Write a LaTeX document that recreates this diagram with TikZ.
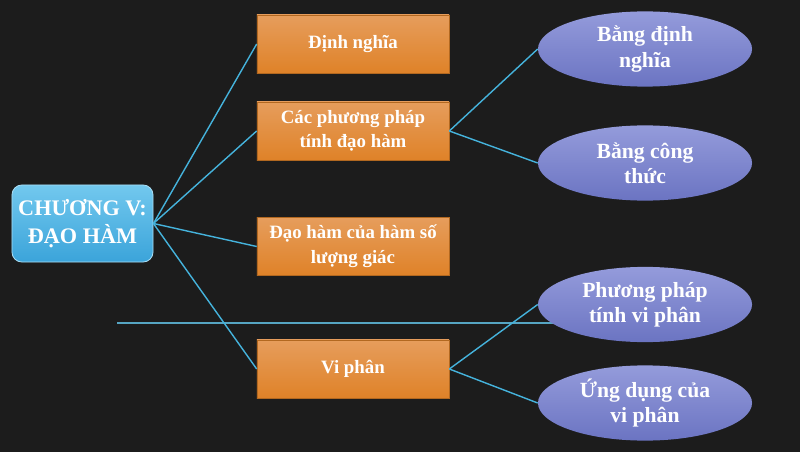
\documentclass[tikz,border=0pt]{standalone}
\usepackage{fontspec}
\setmainfont{Liberation Serif}
\usetikzlibrary{shapes.geometric}
\definecolor{bang}{HTML}{1C1C1C}
\definecolor{phan}{HTML}{45B3DC}
\definecolor{camtren}{HTML}{E69D5C}
\definecolor{camduoi}{HTML}{DF8228}
\definecolor{xanhtren}{HTML}{72C8EE}
\definecolor{xanhduoi}{HTML}{3BA4DA}
\definecolor{timtren}{HTML}{949BDB}
\definecolor{timduoi}{HTML}{6B74C2}

\begin{document}
\begin{tikzpicture}[x=0.025cm,y=-0.025cm,
  chuong/.style={rectangle, rounded corners=7pt, draw=xanhtren!60!white, line width=0.6pt,
    top color=xanhtren, bottom color=xanhduoi, text=white, align=center,
    minimum width=3.525cm, minimum height=1.925cm, inner sep=0pt,
    font=\bfseries\fontsize{15.8}{19.5}\selectfont},
  muc/.style={rectangle, draw=camduoi!80!black, line width=0.4pt,
    top color=camtren, bottom color=camduoi, text=white, align=center,
    minimum width=4.8cm, minimum height=1.45cm, inner sep=0pt,
    font=\bfseries\fontsize{13.4}{17.5}\selectfont},
  cach/.style={ellipse, top color=timtren, bottom color=timduoi, text=white, align=center,
    minimum width=5.35cm, minimum height=1.88cm, inner sep=0pt,
    font=\bfseries\fontsize{15.4}{17.8}\selectfont},
  noi/.style={draw=phan, line width=1pt}]

% nen bang den
\fill[bang] (0,0) rectangle (800,452);
\draw[phan!85!white, line width=1.4pt, opacity=0.85] (117,323) -- (560,323);

\node[chuong] (goc) at (82.5,223.5) {CHƯƠNG V:\\ĐẠO HÀM};

\node[muc] (dn) at (353,44) {Định nghĩa};
\node[muc] (pp) at (353,131) {Các phương pháp\\tính đạo hàm};
\node[muc] (lg) at (353,246.5) {Đạo hàm của hàm số\\lượng giác};
\node[muc] (vp) at (353,369) {Vi phân};

\node[cach] (bdn) at (645,49) {Bằng định\\nghĩa};
\node[cach] (bct) at (645,163) {Bằng công\\thức};
\node[cach] (ppvp) at (645,304.5) {Phương pháp\\tính vi phân};
\node[cach] (ud) at (645,403) {Ứng dụng của\\vi phân};

\draw[noi] (goc.east) -- (dn.west);
\draw[noi] (goc.east) -- (pp.west);
\draw[noi] (goc.east) -- (lg.west);
\draw[noi] (goc.east) -- (vp.west);
\draw[noi] (pp.east) -- (bdn.west);
\draw[noi] (pp.east) -- (bct.west);
\draw[noi] (vp.east) -- (ppvp.west);
\draw[noi] (vp.east) -- (ud.west);
\end{tikzpicture}
\end{document}
